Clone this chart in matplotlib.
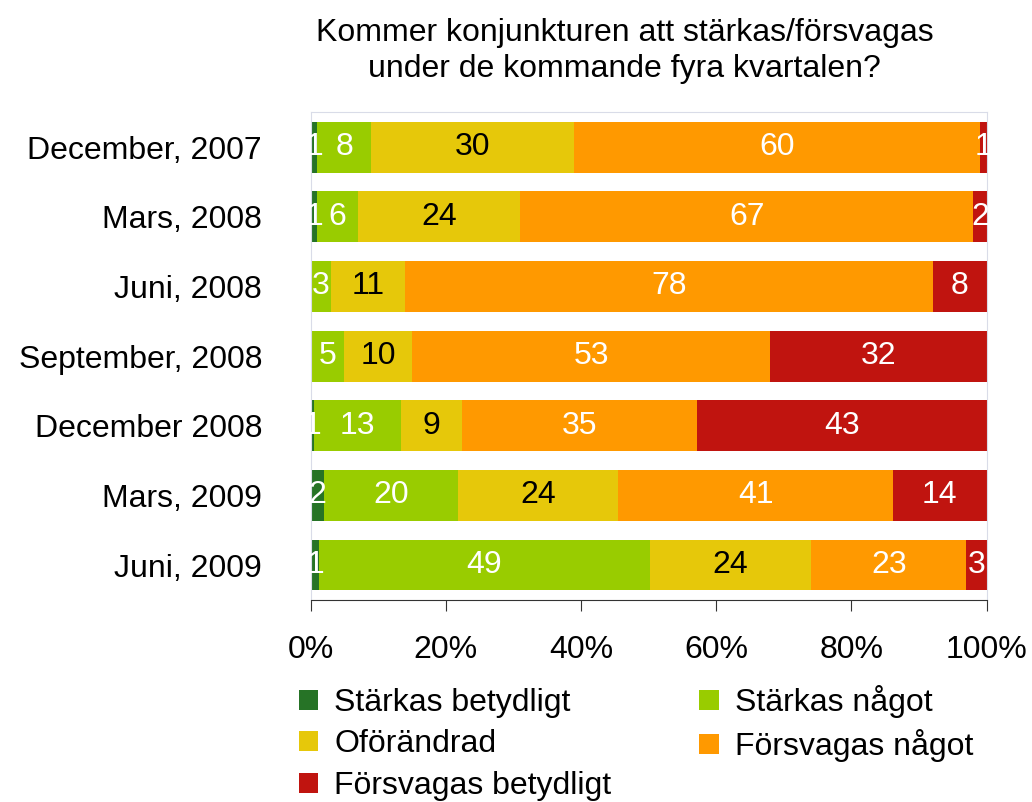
import numpy as np
import matplotlib
matplotlib.use("Agg")
import matplotlib.pyplot as plt
from matplotlib.patches import Patch

plt.rcParams['font.family'] = ['Liberation Sans', 'DejaVu Sans']

# survey rounds, top to bottom
periods = ["December, 2007", "Mars, 2008", "Juni, 2008", "September, 2008",
           "December 2008", "Mars, 2009", "Juni, 2009"]

series_names = ["Stärkas betydligt", "Stärkas något", "Oförändrad",
                "Försvagas något", "Försvagas betydligt"]

starkas_betydligt = [1, 1, 0, 0, 0.5, 2, 1.3]
starkas_nagot = [8, 6, 3, 5, 13, 20, 49]
oforandrad = [30, 24, 11, 10, 9, 24, 24]
forsvagas_nagot = [60, 67, 78, 53, 35, 41, 23]
forsvagas_betydligt = [1, 2, 8, 32, 43, 14, 3]

# what the chart prints in each segment
labels_sb = ["1", "1", "", "", "1", "2", "1"]

colors = ["#267326", "#99CC00", "#E6C80A", "#FF9900", "#C0140F"]
text_colors = ["white", "white", "black", "white", "white"]

data = np.array([starkas_betydligt, starkas_nagot, oforandrad,
                 forsvagas_nagot, forsvagas_betydligt], dtype=float)
pct = data / data.sum(axis=0) * 100

fs = 23

fig = plt.figure(figsize=(10.32, 8.02), dpi=100)
ax = fig.add_axes([0.301, 0.252, 0.655, 0.608])

y = np.arange(len(periods))
left = np.zeros(len(periods))
for k in range(len(series_names)):
    bars = ax.barh(y, pct[k], left=left, height=0.73, color=colors[k],
                   label=series_names[k])
    for i in range(len(periods)):
        if k == 0:
            txt = labels_sb[i]
        else:
            txt = "%d" % data[k][i] if data[k][i] > 0 else ""
        if txt:
            ax.text(left[i] + pct[k][i] / 2, y[i], txt, ha="center", va="center",
                    color=text_colors[k], fontsize=fs)
    left += pct[k]

ax.set_xlim(0, 100)
ax.set_ylim(6.5, -0.5)
ax.set_yticks(y)
ax.set_yticklabels(periods, fontsize=fs)
ax.tick_params(axis="y", length=0, pad=35)
ax.set_xticks([0, 20, 40, 60, 80, 100])
ax.set_xticklabels(["0%", "20%", "40%", "60%", "80%", "100%"], fontsize=fs)
ax.tick_params(axis="x", length=8, direction="out", pad=17, color="#333333")

for s in ["left", "top", "right"]:
    ax.spines[s].set_color("#D9DCE8")
ax.spines["bottom"].set_color("#333333")

fig.text(0.605, 0.977, "Kommer konjunkturen att stärkas/försvagas\nunder de kommande fyra kvartalen?",
         ha="center", va="top", fontsize=fs, linespacing=1.25)

# legend filled row by row like the original
order = [0, 2, 4, 1, 3]
handles = [Patch(facecolor=colors[k]) for k in order]
names = [series_names[k] for k in order]
fig.legend(handles, names, ncol=2, loc="upper left", bbox_to_anchor=(0.29, 0.146),
           frameon=False, fontsize=fs, handlelength=0.6, handleheight=0.6,
           handletextpad=0.5, columnspacing=2.75, labelspacing=0.36,
           borderaxespad=0, borderpad=0)

fig.savefig("out.png", dpi=100)
